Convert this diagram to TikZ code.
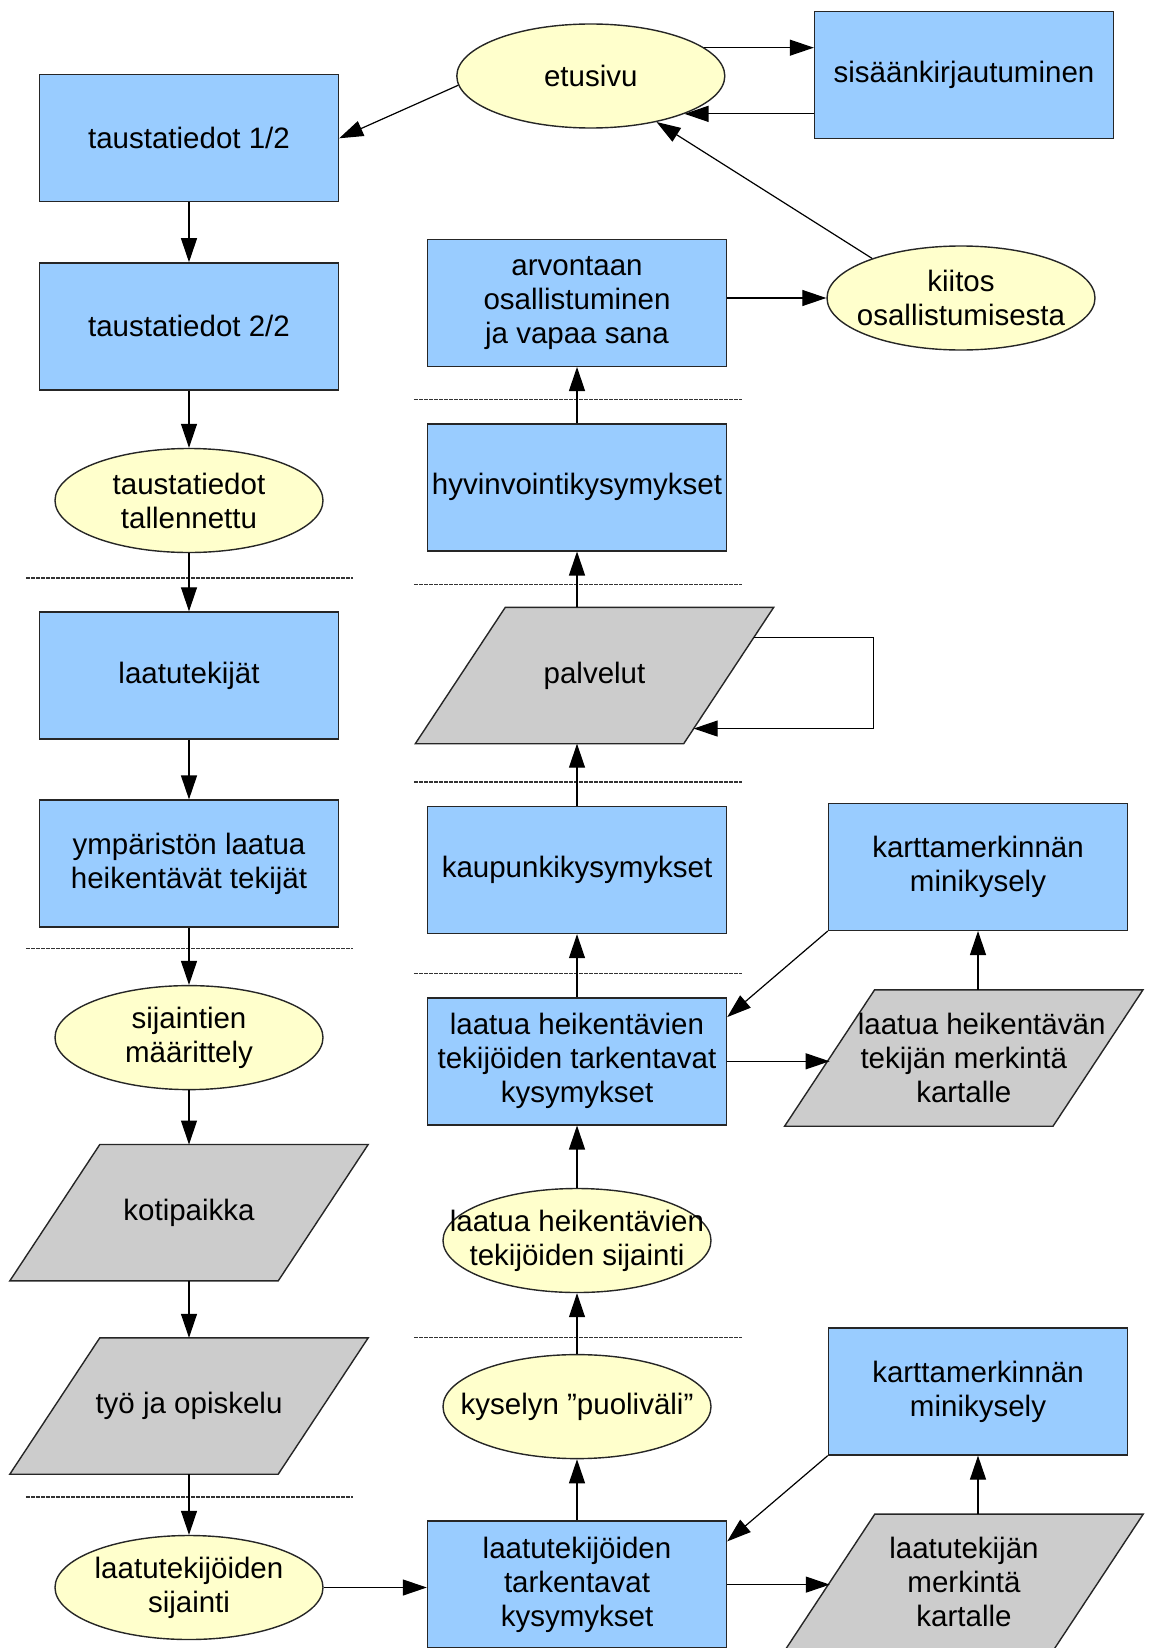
\documentclass[tikz,border=0pt]{standalone}
\usepackage{fontspec}
\setmainfont{Liberation Sans}
\usetikzlibrary{arrows.meta,shapes.geometric,calc}
\definecolor{boxblue}{HTML}{99CCFF}
\definecolor{ovalyellow}{HTML}{FFFFCC}
\definecolor{paragray}{HTML}{CCCCCC}
\pgfdeclarelayer{background}
\pgfsetlayers{background,main}
\begin{document}
\begin{tikzpicture}[x=1pt,y=-1pt,
  every node/.style={font=\fontsize{29.5}{34}\selectfont, align=center, inner sep=0pt},
  box/.style={draw=black!85, line width=1.4pt, fill=boxblue, minimum width=299pt, minimum height=127pt},
  oval/.style={ellipse, draw=black!85, line width=1.4pt, fill=ovalyellow, minimum width=268pt, minimum height=104pt, inner xsep=-100pt, inner ysep=-40pt},
  para/.style={minimum width=268pt, minimum height=136pt},
  parashape/.style={fill=paragray, draw=black!85, line width=1.4pt},
  arr/.style={-{Triangle[length=24pt,width=16pt]}, line width=1.2pt, black},
  sep/.style={draw=black!80, line width=1.5pt, dash pattern=on 3.5pt off 1.5pt}
]
\useasboundingbox (0,0) rectangle (1148,1648);

% left column
\node[box] (t1) at (189,138.3) {taustatiedot 1/2};
\node[box] (t2) at (189,326.4) {taustatiedot 2/2};
\node[oval] (tall) at (189,500.5) {taustatiedot\\tallennettu};
\node[box] (laatu) at (189,675.5) {laatutekijät};
\node[box] (ymp) at (189,863.6) {ympäristön laatua\\heikentävät tekijät};
\node[oval] (sij) at (189,1037.6) {sijaintien\\määrittely};
\node[para] (kot) at (189,1212.7) {kotipaikka};
\node[para] (tyo) at (189,1406) {työ ja opiskelu};
\node[oval] (lts) at (189,1587.5) {laatutekijöiden\\sijainti};

% middle column
\node[oval] (etu) at (590.8,76) {etusivu};
\node[box] (arv) at (577,302.8) {arvontaan\\osallistuminen\\ja vapaa sana};
\node[box] (hyv) at (577,487.3) {hyvinvointikysymykset};
\node[para] (palv) at (594.5,675.5) {palvelut};
\node[box] (kaup) at (577,870) {kaupunkikysymykset};
\node[box] (lht) at (577,1061.3) {laatua heikentävien\\tekijöiden tarkentavat\\kysymykset};
\node[oval] (lhs) at (577,1240.5) {laatua heikentävien\\tekijöiden sijainti};
\node[oval] (kys) at (577,1406.6) {kyselyn ”puoliväli”};
\node[box] (ltt) at (577,1584.6) {laatutekijöiden\\tarkentavat\\kysymykset};

% right column
\node[box] (sis) at (964,75.2) {sisäänkirjautuminen};
\node[oval] (kiit) at (961,298) {kiitos\\osallistumisesta};
\node[box] (kmk1) at (978,866.8) {karttamerkinnän\\minikysely};
\node[para] (lhm) at (963.8,1058) {\makebox[240pt][l]{\hspace*{14pt}laatua heikentävän}\\tekijän merkintä\\kartalle};
\node[box] (kmk2) at (978,1391.4) {karttamerkinnän\\minikysely};
\node[para] (lm) at (964,1582.3) {laatutekijän\\merkintä\\kartalle};

% parallelogram outlines behind their texts
\begin{pgfonlayer}{background}
\foreach \n in {kot,tyo,palv,lhm,lm}
  \path[parashape] ([xshift=45pt]\n.north west) -- ([xshift=45pt]\n.north east)
     -- ([xshift=-45pt]\n.south east) -- ([xshift=-45pt]\n.south west) -- cycle;
\end{pgfonlayer}

% separators
\foreach \yy in {578.2,948.3,1497} \draw[sep] (26,\yy) -- (353,\yy);
\foreach \yy in {399.5,584.5,782.2,973.5,1337.3} \draw[sep] (414,\yy) -- (742,\yy);

% connectors: left column
\draw[arr] (t1.south) -- (t2.north);
\draw[arr] (t2.south) -- (tall.north);
\draw[arr] (tall.south) -- (laatu.north);
\draw[arr] (laatu.south) -- (ymp.north);
\draw[arr] (ymp.south) -- (sij.north);
\draw[arr] (sij.south) -- (kot.north);
\draw[arr] (kot.south) -- (tyo.north);
\draw[arr] (tyo.south) -- (lts.north);
\draw[arr] (lts.east) -- (lts.east -| ltt.west);

% top
\draw[arr] (etu.184) -- (t1.east);
\draw[arr] (etu.14) -- (etu.14 -| sis.west);
\draw[arr] (sis.west |- etu.-22) -- (etu.-22);
\draw[arr] (kiit.156) -- (etu.-35);
\draw[arr] (arv.east |- kiit.west) -- (kiit.west);

% middle column
\draw[arr] (hyv.north) -- (arv.south);
\draw[arr] (hyv.south |- palv.north) -- (hyv.south);
\draw[arr] (kaup.north) -- (kaup.north |- palv.south);
\draw[arr] (lht.north) -- (kaup.south);
\draw[arr] (lhs.north) -- (lht.south);
\draw[arr] (kys.north) -- (lhs.south);
\draw[arr] (ltt.north) -- (kys.south);

% palvelut loop
\coordinate (pTR) at ([xshift=45pt]palv.north east);
\coordinate (pBR) at ([xshift=-45pt]palv.south east);
\draw[arr] ($(pTR)!0.222!(pBR)$) -- ++(119.5,0) |- ($(pTR)!0.889!(pBR)$);

% right side
\draw[arr] (lht.east) -- (lht.east -| lhm.west);
\draw[arr] (kmk1.south |- lhm.north) -- (kmk1.south);
\draw[arr] (kmk1.south west) -- ([yshift=-20pt]lht.north east);
\draw[arr] (ltt.east) -- (ltt.east -| lm.west);
\draw[arr] (kmk2.south |- lm.north) -- (kmk2.south);
\draw[arr] (kmk2.south west) -- ([yshift=-21pt]ltt.north east);
\end{tikzpicture}
\end{document}
